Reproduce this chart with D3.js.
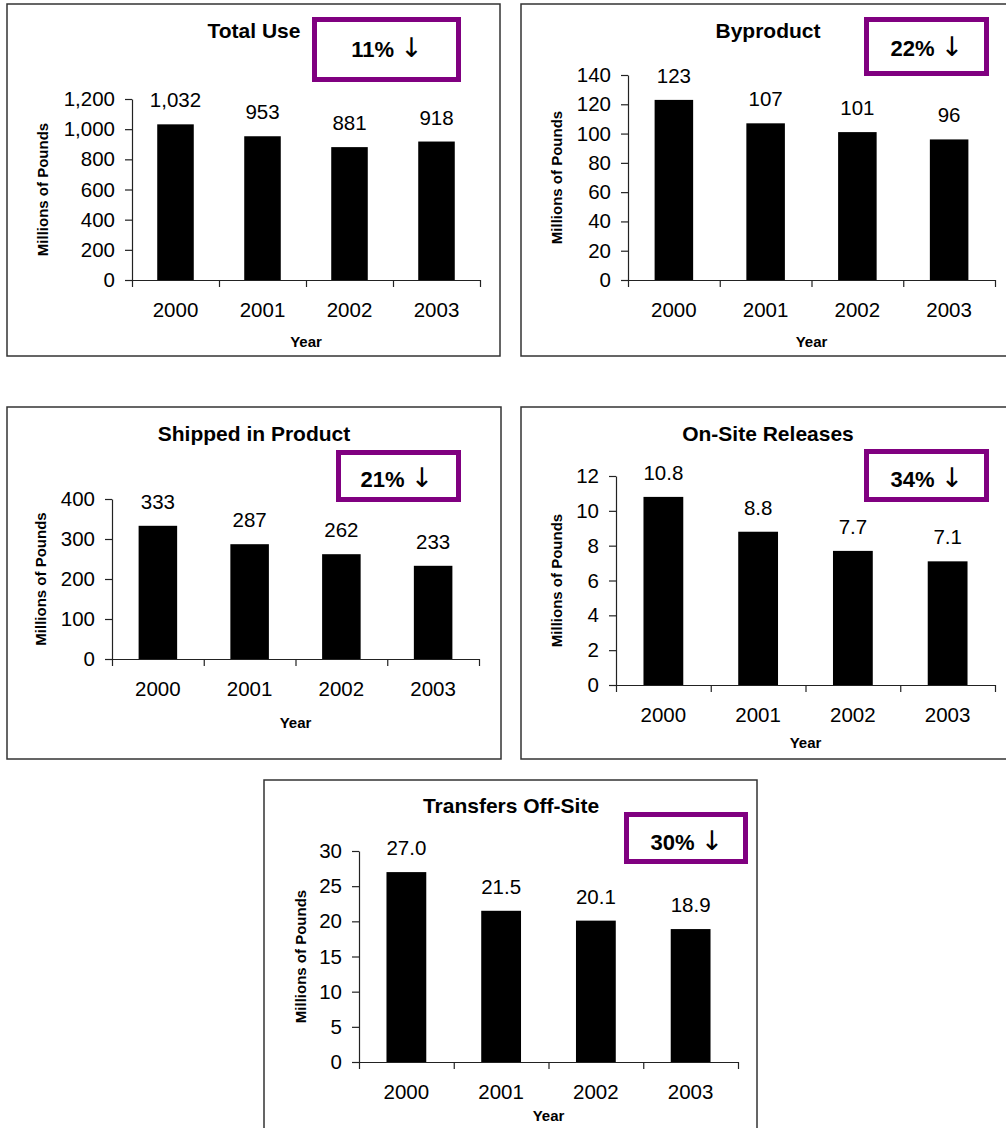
<!DOCTYPE html>
<html>
<head>
<meta charset="utf-8">
<script src="https://cdn.jsdelivr.net/npm/d3@7"></script>
<style>
  html, body { margin: 0; padding: 0; background: #fff; }
  svg { display: block; font-family: "Liberation Sans", Arial, sans-serif; }
</style>
</head>
<body>
<svg id="chart" width="1006" height="1128"></svg>
<script>
// ---- data ----
const years = ["2000", "2001", "2002", "2003"];

const titles = ["Total Use", "Byproduct", "Shipped in Product", "On-Site Releases", "Transfers Off-Site"];
const changeLabels = ["11%", "22%", "21%", "34%", "30%"];

const totalUse = [1032, 953, 881, 918];
const byproduct = [123, 107, 101, 96];
const shippedInProduct = [333, 287, 262, 233];
const onSiteReleases = [10.8, 8.8, 7.7, 7.1];
const transfersOffSite = [27.0, 21.5, 20.1, 18.9];

const totalUseTicks = [0, 200, 400, 600, 800, 1000, 1200];
const byproductTicks = [0, 20, 40, 60, 80, 100, 120, 140];
const shippedTicks = [0, 100, 200, 300, 400];
const onSiteTicks = [0, 2, 4, 6, 8, 10, 12];
const transfersTicks = [0, 5, 10, 15, 20, 25, 30];

const valueFormats = [",", "d", "d", ".1f", ".1f"];

// ---- panel layout (frame, plot area, title, change box) ----
const panels = [
  { values: totalUse, ticks: totalUseTicks,
    frame: [7, 4, 493, 352], plot: [132, 480, 99, 280],
    title: [254, 38], box: [312, 17, 461, 82], pct: [387, 57], ylab: 43, xlab: 347 },
  { values: byproduct, ticks: byproductTicks,
    frame: [521, 4, 520, 352], plot: [628, 995, 75, 280],
    title: [768, 38], box: [864, 17, 989, 76], pct: [927, 56], ylab: 557, xlab: 347 },
  { values: shippedInProduct, ticks: shippedTicks,
    frame: [7, 407, 494, 352], plot: [112, 479, 499, 659],
    title: [254, 441], box: [336, 450, 461, 502], pct: [397, 487], ylab: 41, xlab: 728 },
  { values: onSiteReleases, ticks: onSiteTicks,
    frame: [521, 407, 520, 352], plot: [616, 995, 476, 685],
    title: [768, 441], box: [864, 449, 989, 502], pct: [927, 487], ylab: 557, xlab: 748 },
  { values: transfersOffSite, ticks: transfersTicks,
    frame: [264, 780, 493, 400], plot: [359, 738, 851, 1062],
    title: [511, 813], box: [624, 812, 748, 864], pct: [687, 850], ylab: 301, xlab: 1121 }
];

const svg = d3.select("#chart");
const PURPLE = "#800080";
const BOX_STROKE = 5;

panels.forEach((p, i) => {
  const g = svg.append("g");
  const [x0, x1, yTop, yBase] = p.plot;

  // outer frame
  g.append("rect")
    .attr("x", p.frame[0]).attr("y", p.frame[1])
    .attr("width", p.frame[2]).attr("height", p.frame[3])
    .attr("fill", "#fff").attr("stroke", "#333").attr("stroke-width", 1.5);

  const x = d3.scaleBand().domain(years).range([x0, x1]).padding(0);
  const xEdges = d3.scaleLinear().domain([0, years.length]).range([x0, x1]);
  const yMax = p.ticks[p.ticks.length - 1];
  const y = d3.scaleLinear().domain([0, yMax]).range([yBase, yTop]);

  // bars
  const barW = x.bandwidth() * 0.42;
  g.selectAll(".bar").data(p.values).join("rect")
    .attr("class", "bar")
    .attr("x", (d, j) => x(years[j]) + (x.bandwidth() - barW) / 2)
    .attr("y", d => y(d))
    .attr("width", barW)
    .attr("height", d => yBase - y(d))
    .attr("fill", "#000");

  // value labels above bars
  const fmt = d3.format(valueFormats[i]);
  g.selectAll(".val").data(p.values).join("text")
    .attr("class", "val")
    .attr("x", (d, j) => x(years[j]) + x.bandwidth() / 2)
    .attr("y", d => y(d) - 17)
    .attr("text-anchor", "middle")
    .attr("font-size", 20.5)
    .attr("fill", "#000")
    .text(d => fmt(d));

  // y axis
  const yAxis = d3.axisLeft(y).tickValues(p.ticks).tickSize(7).tickSizeOuter(0)
    .tickPadding(10).tickFormat(d3.format(","));
  const ya = g.append("g").attr("transform", `translate(${x0},0)`).call(yAxis);
  ya.selectAll("text").attr("font-size", 20.5).attr("fill", "#000")
    .attr("font-family", "Liberation Sans, Arial, sans-serif");
  ya.selectAll("line,path").attr("stroke", "#222").attr("stroke-width", 1.2);

  // x axis: boundary ticks
  const xAxis = d3.axisBottom(xEdges).tickValues(d3.range(years.length + 1))
    .tickSize(7).tickSizeOuter(0).tickFormat("");
  const xa = g.append("g").attr("transform", `translate(0,${yBase})`).call(xAxis);
  xa.selectAll("line,path").attr("stroke", "#222").attr("stroke-width", 1.2);

  // category labels
  g.selectAll(".yr").data(years).join("text")
    .attr("class", "yr")
    .attr("x", d => x(d) + x.bandwidth() / 2)
    .attr("y", yBase + 37)
    .attr("text-anchor", "middle")
    .attr("font-size", 20.5)
    .text(d => d);

  // axis titles
  g.append("text")
    .attr("transform", `translate(${p.ylab},${(yTop + yBase) / 2}) rotate(-90)`)
    .attr("dy", "0.35em")
    .attr("text-anchor", "middle")
    .attr("font-size", 15).attr("font-weight", "bold")
    .text("Millions of Pounds");
  g.append("text")
    .attr("x", (x0 + x1) / 2).attr("y", p.xlab)
    .attr("text-anchor", "middle")
    .attr("font-size", 15).attr("font-weight", "bold")
    .text("Year");

  // chart title
  g.append("text")
    .attr("x", p.title[0]).attr("y", p.title[1])
    .attr("text-anchor", "middle")
    .attr("font-size", 21).attr("font-weight", "bold")
    .text(titles[i]);

  // percent change box
  const [bx0, by0, bx1, by1] = p.box;
  const h = BOX_STROKE / 2;
  g.append("rect")
    .attr("x", bx0 + h).attr("y", by0 + h)
    .attr("width", bx1 - bx0 - BOX_STROKE).attr("height", by1 - by0 - BOX_STROKE)
    .attr("fill", "#fff").attr("stroke", PURPLE).attr("stroke-width", BOX_STROKE);
  const pct = g.append("text")
    .attr("x", p.pct[0]).attr("y", p.pct[1])
    .attr("text-anchor", "middle")
    .attr("fill", "#000");
  pct.append("tspan")
    .attr("font-size", 22).attr("font-weight", "bold")
    .text(changeLabels[i] + " ");
  pct.append("tspan")
    .attr("font-family", "DejaVu Sans")
    .attr("font-size", 27).attr("font-weight", "normal")
    .attr("fill", "#000")
    .text("\u2193");
});
</script>
</body>
</html>
